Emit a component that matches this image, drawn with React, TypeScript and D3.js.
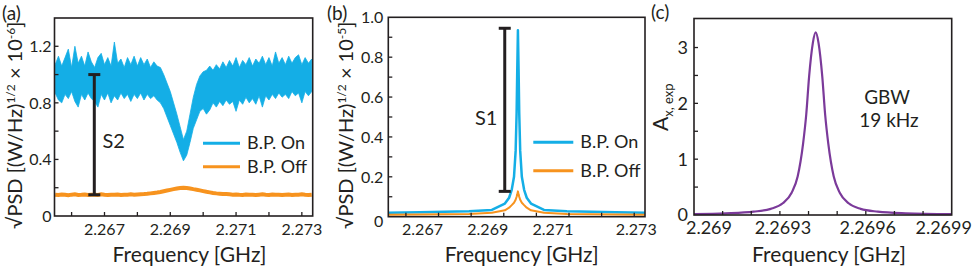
import React from 'react';
import * as d3 from 'd3';

const FONT = 'Lato, "Open Sans", sans-serif';
const INK = '#231f20';
const BLUE = '#14aee6';
const ORANGE = '#f7931e';
const PURPLE = '#7b3a9a';

// (a) noisy spectra, one sample every 0.1 MHz starting at 2.2655 GHz
const aStart = 2.2655;
const aStep = 0.0001;
const aOnUpper = [
  1.07, 1.13, 1.06, 1.12, 1.18, 1.05, 1.2, 1.08, 1.13, 1.06, 1.16, 1.09, 1.05, 1.12, 1.15, 1.07,
  1.12, 1.06, 1.23, 1.08, 1.11, 1.05, 1.12, 1.07, 1.13, 1.06, 1.12, 1.07, 1.11, 1.05, 1.09, 1.06,
  1.05, 1.0, 0.94, 0.88, 0.8, 0.72, 0.63, 0.54, 0.6, 0.72, 0.84, 0.93, 0.99, 1.02, 1.03, 1.06,
  1.03, 1.07, 1.04, 1.09, 1.05, 1.1, 1.06, 1.12, 1.05, 1.1, 1.07, 1.12, 1.06, 1.11, 1.08, 1.13,
  1.07, 1.12, 1.06, 1.16, 1.08, 1.12, 1.07, 1.13, 1.08, 1.12, 1.14, 1.07, 1.12, 1.08, 1.11,
];
const aOnLower = [
  0.87, 0.82, 0.8, 0.86, 0.83, 0.88, 0.81, 0.77, 0.86, 0.82, 0.87, 0.83, 0.81, 0.77, 0.86, 0.82,
  0.87, 0.8, 0.85, 0.82, 0.87, 0.83, 0.86, 0.81, 0.86, 0.83, 0.87, 0.82, 0.86, 0.83, 0.85, 0.82,
  0.8, 0.76, 0.7, 0.64, 0.58, 0.52, 0.45, 0.39, 0.43, 0.52, 0.62, 0.68, 0.74, 0.76, 0.72, 0.75,
  0.8, 0.77, 0.81, 0.78, 0.82, 0.79, 0.81, 0.74, 0.82, 0.79, 0.84, 0.8, 0.83, 0.79, 0.85, 0.77,
  0.85, 0.82, 0.86, 0.83, 0.87, 0.84, 0.86, 0.83, 0.88, 0.85, 0.87, 0.8, 0.88, 0.85, 0.88,
];
const aOff = [
  0.15, 0.148, 0.152, 0.15, 0.147, 0.151, 0.153, 0.149, 0.15, 0.152, 0.148, 0.15, 0.151, 0.149,
  0.153, 0.15, 0.148, 0.151, 0.15, 0.152, 0.149, 0.15, 0.151, 0.153, 0.15, 0.152, 0.154, 0.155,
  0.157, 0.16, 0.163, 0.166, 0.17, 0.175, 0.18, 0.185, 0.19, 0.195, 0.198, 0.2, 0.198, 0.195,
  0.19, 0.186, 0.181, 0.176, 0.171, 0.167, 0.163, 0.16, 0.158, 0.156, 0.155, 0.153, 0.151, 0.152,
  0.15, 0.149, 0.152, 0.151, 0.15, 0.148, 0.151, 0.153, 0.15, 0.149, 0.152, 0.15, 0.151, 0.148,
  0.15, 0.152, 0.149, 0.151, 0.15, 0.153, 0.15, 0.149, 0.151,
];

// (b) resonance with the band-pass on / off
const bFreq = [
  2.26546, 2.266434, 2.267934, 2.268634, 2.269034, 2.269164, 2.269244, 2.269314, 2.269364,
  2.269394, 2.269414, 2.269434, 2.269454, 2.269474, 2.269504, 2.269554, 2.269624, 2.269704,
  2.269834, 2.270234, 2.270934, 2.272434, 2.27333,
];
const bOn = [
  0.02, 0.022, 0.027, 0.034, 0.066, 0.095, 0.135, 0.2, 0.33, 0.52, 0.74, 0.935, 0.74, 0.52, 0.33,
  0.2, 0.135, 0.095, 0.066, 0.034, 0.027, 0.022, 0.02,
];
const bOff = [
  0.01, 0.011, 0.014, 0.02, 0.032, 0.045, 0.058, 0.07, 0.085, 0.1, 0.112, 0.127, 0.112, 0.1,
  0.085, 0.07, 0.058, 0.045, 0.032, 0.02, 0.014, 0.011, 0.01,
];

// (c) gain
const cFreq = [
  2.269, 2.269111, 2.269208, 2.269268, 2.26931, 2.269341, 2.269362, 2.269381, 2.269392, 2.269402,
  2.269415, 2.269425, 2.269435, 2.269448, 2.269458, 2.269469, 2.269488, 2.269509, 2.26954,
  2.269582, 2.269642, 2.269739, 2.2699,
];
const cGain = [
  0.017, 0.03, 0.06, 0.11, 0.21, 0.4, 0.69, 1.28, 1.8, 2.48, 3.08, 3.27, 3.08, 2.48, 1.8, 1.28,
  0.69, 0.4, 0.21, 0.11, 0.06, 0.03, 0.014,
];

// error bars
const s2 = { f: 2.26669, lo: 0.15, hi: 1.0 };
const s1 = { f: 2.26903, lo: 0.127, hi: 0.945 };

// ticks
const abTicksX = [2.266, 2.267, 2.268, 2.269, 2.27, 2.271, 2.272, 2.273];
const abLabelsX = [2.267, 2.269, 2.271, 2.273];
const aTicksY = [0.2, 0.4, 0.6, 0.8, 1.0, 1.2];
const aLabelsY = [0, 0.4, 0.8, 1.2];
const bTicksY = [0.1, 0.2, 0.3, 0.4, 0.5, 0.6, 0.7, 0.8, 0.9];
const bLabelsY = [0, 0.2, 0.4, 0.6, 0.8, 1.0];
const cTicksX = [2.2691, 2.2692, 2.2693, 2.2694, 2.2695, 2.2696, 2.2697, 2.2698];
const cLabelsX = [2.269, 2.2693, 2.2696, 2.2699];
const cTicksY = [0.5, 1, 1.5, 2, 2.5, 3];
const cLabelsY = [0, 1, 2, 3];

const Frame = ({ x, y, xTicks, xLabels, xFmt, xDx, yTicks, yLabels, yFmt, yDy, yGap, size }) => {
  const [x0, x1] = x.range();
  const [y0, y1] = y.range();
  return (
    <g fontFamily={FONT} fill={INK}>
      <rect x={x0} y={y1} width={x1 - x0} height={y0 - y1} fill="none" stroke={INK} strokeWidth={1.6} />
      {xTicks.map((t) => (
        <line key={'xt' + t} x1={x(t)} x2={x(t)} y1={y0} y2={y0 - 4} stroke={INK} strokeWidth={1.3} />
      ))}
      {yTicks.map((t) => (
        <line key={'yt' + t} x1={x0} x2={x0 + 4} y1={y(t)} y2={y(t)} stroke={INK} strokeWidth={1.3} />
      ))}
      {xLabels.map((t, i) => (
        <text key={'xl' + t} x={x(t) + (xDx ? xDx[i] : 0)} y={y0 + 18.5} textAnchor="middle" fontSize={size}>
          {xFmt(t)}
        </text>
      ))}
      {yLabels.map((t, i) => (
        <text
          key={'yl' + t}
          x={x0 - (yGap || 3)}
          y={y(t) + (yDy ? yDy[i] : 0) + size * 0.36}
          textAnchor="end"
          fontSize={size}
        >
          {yFmt(t)}
        </text>
      ))}
    </g>
  );
};

// rotated title, written upward from its bottom end
const PsdTitle = ({ x, y, exp }) => (
  <text transform={`translate(${x},${y}) rotate(-90)`} fontFamily={FONT} fontSize={20} fill={INK}>
    √PSD [(W/Hz)
    <tspan dy={-7} fontSize={12}>1/2</tspan>
    <tspan dy={7}> × 10</tspan>
    <tspan dy={-7} fontSize={12}>{exp}</tspan>
    <tspan dy={7}>]</tspan>
  </text>
);

const ErrorBar = ({ x, y, bar }) => {
  const cx = x(bar.f);
  return (
    <g stroke={INK} strokeWidth={3}>
      <line x1={cx} x2={cx} y1={y(bar.lo)} y2={y(bar.hi)} />
      <line x1={cx - 6} x2={cx + 6} y1={y(bar.lo)} y2={y(bar.lo)} />
      <line x1={cx - 6} x2={cx + 6} y1={y(bar.hi)} y2={y(bar.hi)} />
    </g>
  );
};

const Legend = ({ x, y, gap, len }) => (
  <g fontFamily={FONT} fontSize={18} fill={INK}>
    <line x1={x} x2={x + len} y1={y} y2={y} stroke={BLUE} strokeWidth={3} />
    <text x={x + len + 7} y={y + 6}>B.P. On</text>
    <line x1={x} x2={x + len} y1={y + gap} y2={y + gap} stroke={ORANGE} strokeWidth={3} />
    <text x={x + len + 7} y={y + gap + 6}>B.P. Off</text>
  </g>
);

const Title = ({ x, y, text }) => (
  <text x={x} y={y} textAnchor="middle" fontFamily={FONT} fontSize={21} fill={INK}>
    {text}
  </text>
);

export default function App() {
  const fmt3 = d3.format('.3f');
  const fmt1 = (v) => (v === 0 ? '0' : d3.format('.1f')(v));

  // panel (a)
  const xa = d3.scaleLinear().domain([2.26548, 2.27333]).range([54.5, 312.7]);
  const ya = d3.scaleLinear().domain([0, 1.4]).range([216, 18]);
  const aFreq = aOnUpper.map((_, i) => aStart + i * aStep);
  const aBand = d3
    .area()
    .x((d, i) => xa(aFreq[i]))
    .y0((d, i) => ya(aOnLower[i]))
    .y1((d) => ya(d));
  const aLine = d3
    .line()
    .x((d, i) => xa(aFreq[i]))
    .y((d) => ya(d));

  // panel (b)
  const xb = d3.scaleLinear().domain([2.26546, 2.27333]).range([388.3, 645]);
  const yb = d3.scaleLinear().domain([0, 1]).range([216.7, 17.3]);
  const bLine = d3
    .line()
    .x((d, i) => xb(bFreq[i]))
    .y((d) => yb(d));

  // panel (c)
  const xc = d3.scaleLinear().domain([2.269, 2.2699]).range([694, 951.7]);
  const yc = d3.scaleLinear().domain([0, 3.52]).range([215, 18.5]);
  const cLine = d3
    .line()
    .x((d, i) => xc(cFreq[i]))
    .y((d) => yc(d))
    .curve(d3.curveMonotoneX);

  return (
    <svg width={975} height={267} style={{ position: 'absolute', left: 0, top: 0, background: '#fff' }}>
      {/* (a) */}
      <path d={aBand(aOnUpper)} fill={BLUE} stroke={BLUE} strokeWidth={0.8} />
      <path d={aLine(aOff)} fill="none" stroke={ORANGE} strokeWidth={4} />
      <ErrorBar x={xa} y={ya} bar={s2} />
      <text x={102.5} y={148.3} fontFamily={FONT} fontSize={20} fill={INK}>S2</text>
      <Legend x={203} y={143.3} gap={23.5} len={37} />
      <Frame
        x={xa}
        y={ya}
        xTicks={abTicksX}
        xLabels={abLabelsX}
        xFmt={fmt3}
        yTicks={aTicksY}
        yLabels={aLabelsY}
        yFmt={fmt1}
        size={16}
      />
      <PsdTitle x={22} y={229} exp="-6" />
      <Title x={189.5} y={261.5} text="Frequency [GHz]" />
      <text x={2} y={20} fontFamily={FONT} fontSize={19} fill={INK}>(a)</text>

      {/* (b) */}
      <path d={bLine(bOn)} fill="none" stroke={BLUE} strokeWidth={2.5} strokeLinejoin="round" />
      <path d={bLine(bOff)} fill="none" stroke={ORANGE} strokeWidth={2} strokeLinejoin="round" />
      <ErrorBar x={xb} y={yb} bar={s1} />
      <text x={475} y={125} fontFamily={FONT} fontSize={20} fill={INK}>S1</text>
      <Legend x={533.3} y={142.3} gap={28.4} len={40} />
      <Frame
        x={xb}
        y={yb}
        xTicks={abTicksX}
        xLabels={abLabelsX}
        xFmt={fmt3}
        xDx={[-16, -16, -16, 2]}
        yTicks={bTicksY}
        yLabels={bLabelsY}
        yFmt={fmt1}
        yDy={[5, 0, 0, 0, 0, 0]}
        yGap={5}
        size={16}
      />
      <PsdTitle x={353} y={229} exp="-5" />
      <Title x={521.7} y={261.5} text="Frequency [GHz]" />
      <text x={327} y={20} fontFamily={FONT} fontSize={19} fill={INK}>(b)</text>

      {/* (c) */}
      <path d={cLine(cGain)} fill="none" stroke={PURPLE} strokeWidth={2.2} />
      <Frame
        x={xc}
        y={yc}
        xTicks={cTicksX}
        xLabels={cLabelsX}
        xFmt={(v) => d3.format('.4~f')(v)}
        xDx={[15, 3, 2, -8]}
        yTicks={cTicksY}
        yLabels={cLabelsY}
        yFmt={(v) => String(v)}
        yGap={6}
        size={18}
      />
      <text transform="translate(668,131) rotate(-90)" fontFamily={FONT} fontSize={21} fill={INK}>
        A<tspan dy={5} fontSize={13}>x, exp</tspan>
      </text>
      <text x={887} y={103.5} textAnchor="middle" fontFamily={FONT} fontSize={19} fill={INK}>GBW</text>
      <text x={889} y={126.7} textAnchor="middle" fontFamily={FONT} fontSize={19} fill={INK}>19 kHz</text>
      <Title x={829} y={261.5} text="Frequency [GHz]" />
      <text x={651} y={19} fontFamily={FONT} fontSize={19} fill={INK}>(c)</text>
    </svg>
  );
}
